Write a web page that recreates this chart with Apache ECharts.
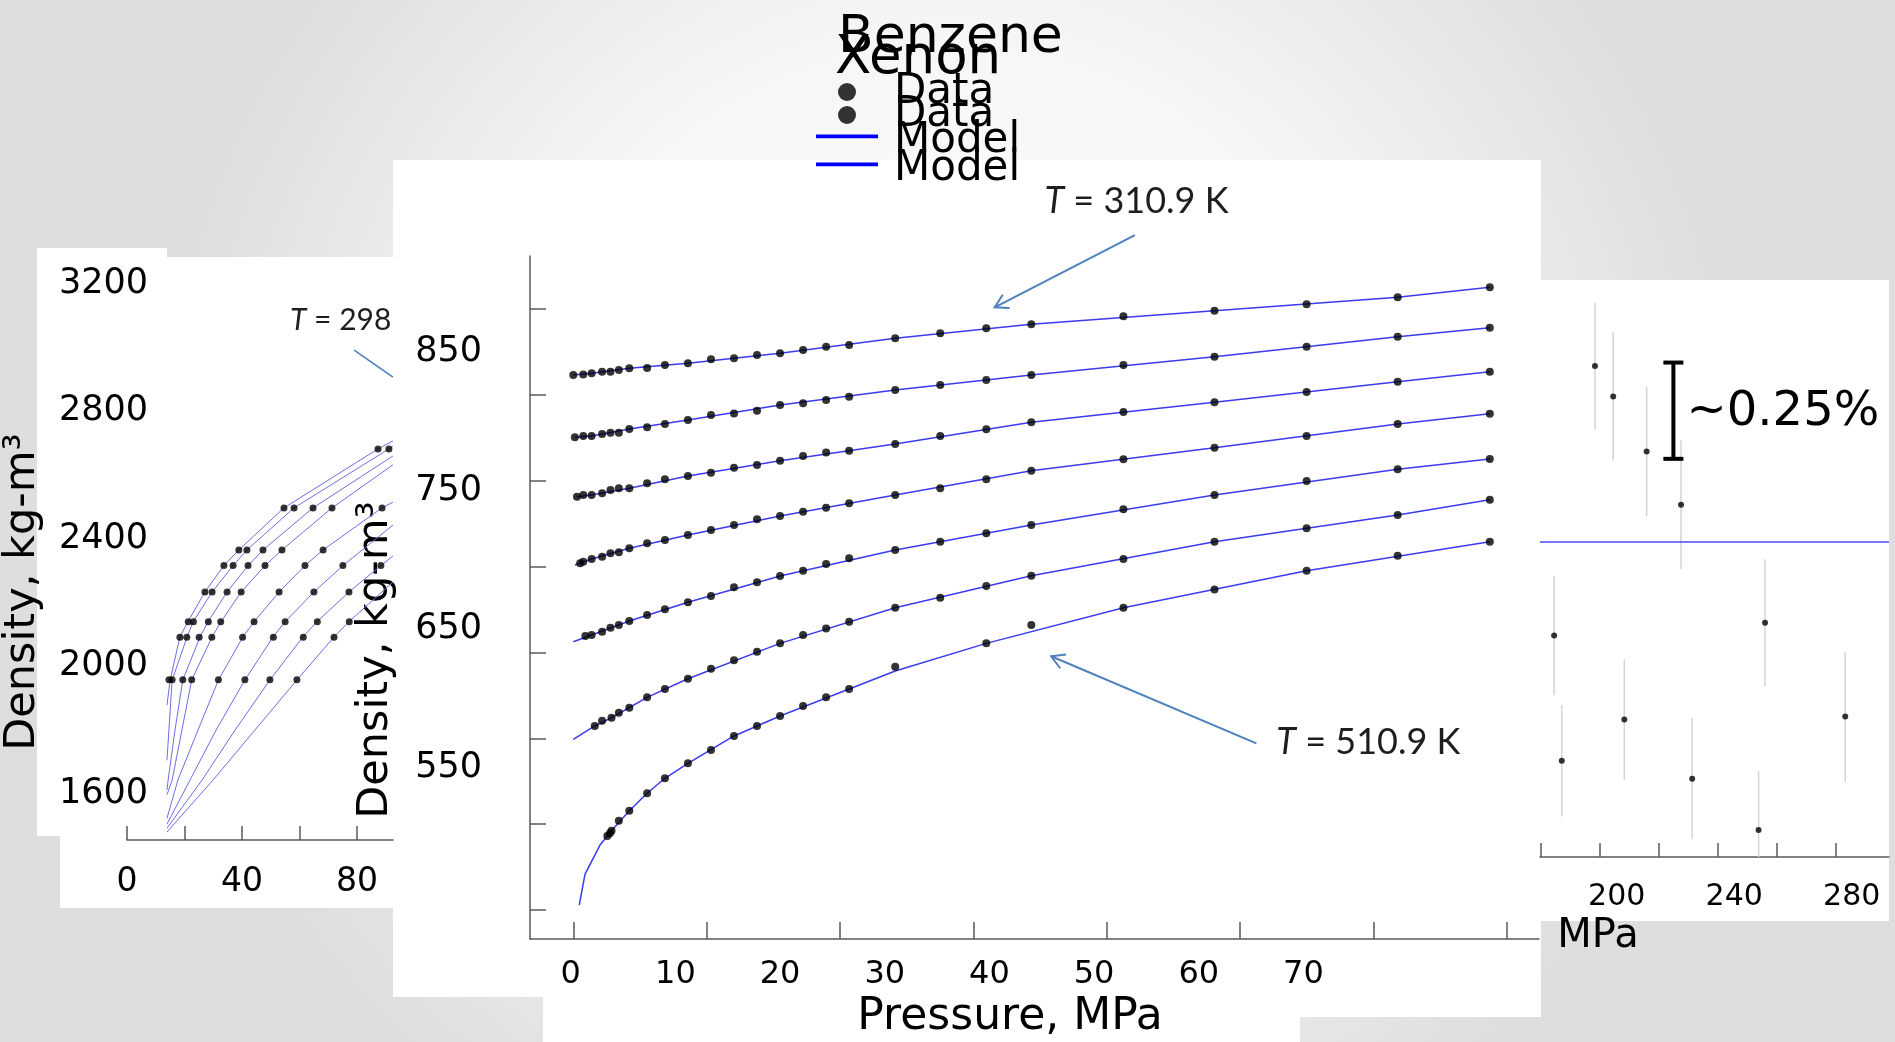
<!DOCTYPE html>
<html>
<head>
<meta charset="utf-8">
<script src="https://cdn.jsdelivr.net/npm/echarts@6/dist/echarts.min.js"></script>
<style>
  html, body { margin: 0; padding: 0; background: #fff; }
  #chart { width: 1895px; height: 1042px; }
</style>
</head>
<body>
<div id="chart"></div>
<script>
// ---------------- Benzene isotherms (main panel): [pressure MPa, density kg/m3] ----------------
const bz310Data = [[0.25,833.1],[1.2,833.6],[2.0,834.4],[3.0,835.5],[3.8,835.5],[4.6,836.7],[5.6,838.0],[7.3,838.2],[9.0,840.3],[11.2,841.6],[13.4,844.5],[15.6,845.2],[17.8,847.6],[20.0,848.8],[22.2,851.2],[24.4,853.5],[26.6,854.8],[31.0,859.6],[35.3,863.2],[39.7,866.8],[44.0,869.7],[52.8,875.4],[61.5,879.5],[70.3,884.1],[79.0,889.1],[87.8,896.3]];
const bz344Data = [[0.4,788.3],[1.2,789.2],[2.0,789.2],[3.0,790.6],[3.8,791.6],[4.6,791.6],[5.6,794.2],[7.3,795.5],[9.0,797.8],[11.2,800.7],[13.4,804.3],[15.6,805.5],[17.8,807.4],[20.0,811.5],[22.2,812.8],[24.4,815.1],[26.6,817.5],[31.0,822.3],[35.3,825.9],[39.7,829.5],[44.0,833.1],[52.8,840.3],[61.5,846.3],[70.3,853.5],[79.0,860.7],[87.8,867.2]];
const bz378Data = [[0.6,745.5],[1.2,746.7],[2.0,746.7],[3.0,747.9],[3.8,750.3],[4.6,751.5],[5.6,751.5],[7.3,755.1],[9.0,758.0],[11.2,760.4],[13.4,762.8],[15.6,766.4],[17.8,768.3],[20.0,771.4],[22.2,774.8],[24.4,777.4],[26.6,778.6],[31.0,783.4],[35.3,789.2],[39.7,794.0],[44.0,799.1],[52.8,806.5],[61.5,813.5],[70.3,820.9],[79.0,828.3],[87.8,835.5]];
const bz411Data = [[0.9,697.5],[1.2,698.6],[2.0,700.6],[3.0,702.2],[3.8,704.7],[4.6,705.4],[5.6,708.3],[7.3,711.9],[9.0,714.3],[11.2,717.9],[13.4,721.5],[15.6,725.1],[17.8,729.2],[20.0,731.6],[22.2,734.7],[24.4,737.5],[26.6,740.7],[31.0,746.7],[35.3,751.5],[39.7,758.0],[44.0,764.2],[52.8,772.4],[61.5,780.8],[70.3,789.2],[79.0,797.8],[87.8,805.3]];
const bz444Data = [[1.4,645.1],[2.0,645.8],[3.0,648.2],[3.8,651.1],[4.6,653.0],[5.6,655.9],[7.3,660.2],[9.0,664.3],[11.2,669.4],[13.4,673.9],[15.6,680.2],[17.8,683.8],[20.0,688.3],[22.2,692.1],[24.4,697.0],[26.6,701.1],[31.0,707.1],[35.3,713.0],[39.7,719.1],[44.0,725.1],[52.8,736.4],[61.5,746.7],[70.3,756.8],[79.0,765.2],[87.8,772.6]];
const bz478Data = [[2.3,580.3],[3.0,584.1],[3.9,586.2],[4.6,589.8],[5.6,593.4],[7.3,600.9],[9.0,606.9],[11.2,614.3],[13.4,621.5],[15.6,627.6],[17.8,633.8],[20.0,639.8],[22.2,645.8],[24.4,650.6],[26.6,655.4],[31.0,665.5],[35.3,672.7],[39.7,681.1],[44.0,688.5],[52.8,700.6],[61.5,713.0],[70.3,722.7],[79.0,732.3],[87.8,743.3]];
const bz511Data = [[3.5,501.0],[3.75,503.0],[3.9,504.8],[4.6,512.0],[5.6,519.2],[7.3,531.8],[9.0,542.6],[11.2,553.4],[13.4,563.0],[15.6,573.1],[17.8,580.3],[20.0,587.5],[22.2,594.7],[24.4,600.9],[26.6,606.9],[31.0,623.0],[39.7,639.8],[44.0,653.0],[52.8,665.5],[61.5,678.7],[70.3,692.1],[79.0,703.0],[87.8,713.0]];

// Benzene model curves
const bz310Model = [[0.25,833.1],[2.0,834.4],[5.6,838.0],[11.2,841.6],[20.0,848.8],[31.0,859.6],[44.0,869.7],[61.5,879.5],[79.0,889.1],[87.8,896.3]];
const bz344Model = [[0.4,788.3],[2.0,789.2],[5.6,794.2],[11.2,800.7],[20.0,811.5],[31.0,822.3],[44.0,833.1],[61.5,846.3],[79.0,860.7],[87.8,867.2]];
const bz378Model = [[0.6,745.5],[2.0,746.7],[5.6,751.5],[11.2,760.4],[20.0,771.4],[31.0,783.4],[44.0,799.1],[61.5,813.5],[79.0,828.3],[87.8,835.5]];
const bz411Model = [[0.4,696.3],[2.0,700.6],[5.6,708.3],[11.2,717.9],[20.0,731.6],[31.0,746.7],[44.0,764.2],[61.5,780.8],[79.0,797.8],[87.8,805.3]];
const bz444Model = [[0.25,641.0],[2.0,645.8],[5.6,655.9],[11.2,669.4],[20.0,688.3],[31.0,707.1],[44.0,725.1],[61.5,746.7],[79.0,765.2],[87.8,772.6]];
const bz478Model = [[0.25,570.7],[2.3,580.3],[3.9,586.2],[7.3,600.9],[11.2,614.3],[20.0,639.8],[31.0,665.5],[44.0,688.5],[61.5,713.0],[79.0,732.3],[87.8,743.3]];
const bz511Model = [[0.82,451.3],[1.37,473.6],[2.8,494.5],[3.9,504.8],[5.6,519.2],[7.3,531.8],[9.0,542.6],[11.2,553.4],[15.6,573.1],[20.0,587.5],[26.6,606.9],[31.0,619.9],[39.7,639.8],[52.8,665.5],[70.3,692.1],[87.8,713.0]];

// ---------------- Xenon isotherms (left panel) ----------------
const xe1Data = [[14.6,1958],[18.4,2091],[21.3,2140],[27.1,2233],[33.7,2316],[38.9,2365],[54.6,2497],[87.3,2682]];
const xe2Data = [[15.7,1958],[20.8,2091],[23.1,2140],[29.6,2233],[36.9,2316],[41.7,2365],[58.1,2497],[91.1,2682]];
const xe3Data = [[19.4,1958],[25.1,2091],[28.3,2140],[34.8,2233],[42.1,2316],[47.3,2365],[64.7,2497]];
const xe4Data = [[22.5,1958],[29.5,2091],[32.6,2140],[39.7,2233],[48.0,2316],[53.9,2365],[71.3,2497]];
const xe5Data = [[31.8,1958],[40.2,2091],[44.2,2140],[52.9,2233],[61.9,2316],[68.2,2365],[88.7,2497]];
const xe6Data = [[41.0,1958],[50.9,2091],[55.0,2140],[65.0,2233],[75.1,2316]];
const xe7Data = [[49.7,1958],[61.3,2091],[66.2,2140],[77.2,2233],[88.3,2316]];
const xe8Data = [[59.1,1958],[72.0,2091],[77.3,2140]];

const xe1Model = [[13.9,1878],[15.0,1957],[18.4,2092],[21.2,2140],[27.1,2233],[33.7,2316],[38.9,2365],[54.6,2497],[87.3,2682],[92.5,2707]];
const xe2Model = [[13.9,1705],[15.7,1957],[20.9,2092],[23.0,2140],[29.6,2233],[36.9,2316],[41.7,2365],[58.1,2497],[91.1,2682],[92.5,2691]];
const xe3Model = [[13.9,1612],[14.3,1643],[16.7,1800],[19.4,1957],[25.4,2092],[28.2,2140],[34.8,2233],[42.1,2316],[47.3,2365],[64.7,2497],[92.5,2660]];
const xe4Model = [[13.9,1597],[15.7,1643],[19.1,1800],[22.5,1957],[29.6,2092],[32.7,2140],[39.7,2233],[48.0,2316],[53.9,2365],[71.3,2497],[92.5,2632]];
const xe5Model = [[13.9,1523],[17.7,1643],[24.7,1800],[31.8,1957],[40.3,2092],[44.2,2140],[52.9,2233],[61.9,2316],[68.2,2365],[88.7,2497],[92.5,2515]];
const xe6Model = [[13.9,1505],[21.9,1643],[31.0,1800],[41.0,1957],[50.8,2092],[55.0,2140],[65.0,2233],[75.1,2316],[92.5,2443]];
const xe7Model = [[13.9,1492],[26.1,1643],[37.6,1800],[49.7,1957],[61.2,2092],[66.1,2140],[77.2,2233],[88.3,2316],[92.5,2346]];
const xe8Model = [[13.9,1480],[29.9,1643],[44.5,1800],[59.1,1957],[72.0,2092],[77.2,2140],[92.5,2264]];

// ---------------- Xenon deviations at high pressure (right panel), % ----------------
const devPressure = [178.7, 181.3, 192.6, 198.8, 202.6, 210.2, 221.9, 225.7, 248.3, 250.5, 277.8];
const devPercent  = [-0.244, -0.569, 0.456, 0.377, -0.462, 0.234, 0.096, -0.616, -0.749, -0.211, -0.454];
const devUncert   = [0.155, 0.145, 0.164, 0.167, 0.157, 0.168, 0.167, 0.157, 0.153, 0.165, 0.168];
const scaleBar    = [219.3, 0.215, 0.465];   // pressure, low %, high %  (a 0.25 % span)

// ---------------- Tick / label values ----------------
const mainTickX   = [0, 10, 20, 30, 40, 50, 60, 70];
const mainLabelX  = [0, 10, 20, 30, 40, 50, 60, 70];
const mainTickY   = [500, 550, 600, 650, 700, 750, 800, 850];
const mainLabelY  = [550, 650, 750, 850];
const leftTickX   = [0, 20, 40, 60, 80];
const leftLabelX  = [0, 40, 80];
const leftLabelY  = [1600, 2000, 2400, 2800, 3200];
const rightTickX  = [180, 200, 220, 240, 260, 280];
const rightLabelX = [200, 240, 280];

const FONT = 'DejaVu Sans';
const AXIS_GREY = '#5a5a5a';
const MODEL_BLUE = '#3b3bf0';
const XE_BLUE = '#6e6ee2';

const chart = echarts.init(document.getElementById('chart'), null, { renderer: 'canvas', width: 1895, height: 1042 });

const hiddenAxisParts = { axisLine: { show: false }, axisTick: { show: false }, splitLine: { show: false } };
const plain = (v) => String(v);

function modelSeries(data, xi, yi, color, width) {
  return { name: 'Model', type: 'line', xAxisIndex: xi, yAxisIndex: yi, data: data, symbol: 'none',
           smooth: false, clip: true, lineStyle: { color: color, width: width }, itemStyle: { color: color }, z: 3 };
}
function dataSeries(data, xi, yi, size) {
  return { name: 'Data', type: 'scatter', xAxisIndex: xi, yAxisIndex: yi, data: data, symbol: 'circle',
           symbolSize: size, itemStyle: { color: '#000' }, clip: true, z: 4 };
}

const series = [];
[xe1Model, xe2Model, xe3Model, xe4Model, xe5Model, xe6Model, xe7Model, xe8Model]
  .forEach(d => series.push(modelSeries(d, 0, 0, XE_BLUE, 1)));
[xe1Data, xe2Data, xe3Data, xe4Data, xe5Data, xe6Data, xe7Data, xe8Data]
  .forEach(d => series.push(dataSeries(d, 0, 0, 7)));
[bz310Model, bz344Model, bz378Model, bz411Model, bz444Model, bz478Model, bz511Model]
  .forEach(d => series.push(modelSeries(d, 2, 2, MODEL_BLUE, 1.5)));
[bz310Data, bz344Data, bz378Data, bz411Data, bz444Data, bz478Data, bz511Data]
  .forEach(d => series.push(dataSeries(d, 2, 2, 8)));

// error bars of the deviations
series.push({
  type: 'custom', xAxisIndex: 4, yAxisIndex: 3, clip: true, z: 3, silent: true,
  data: devPressure.map((p, i) => [p, devPercent[i] - devUncert[i], devPercent[i] + devUncert[i]]),
  renderItem: function (params, api) {
    const a = api.coord([api.value(0), api.value(1)]);
    const b = api.coord([api.value(0), api.value(2)]);
    return { type: 'line', shape: { x1: a[0], y1: a[1], x2: b[0], y2: b[1] },
             style: { stroke: '#d4d4d4', lineWidth: 1.5 } };
  }
});
// deviation points with the zero line of the model
series.push({
  name: 'Deviation', type: 'scatter', xAxisIndex: 4, yAxisIndex: 3, symbolSize: 6, clip: true, z: 4,
  itemStyle: { color: '#000' },
  data: devPressure.map((p, i) => [p, devPercent[i]]),
  markLine: { silent: true, symbol: ['none', 'none'], label: { show: false },
              lineStyle: { color: '#4b4bf2', width: 1.5, type: 'solid' }, data: [{ yAxis: 0 }] }
});
// 0.25 % scale bar
series.push({
  type: 'custom', xAxisIndex: 4, yAxisIndex: 3, clip: false, z: 5, silent: true,
  data: [scaleBar],
  renderItem: function (params, api) {
    const a = api.coord([api.value(0), api.value(1)]);
    const b = api.coord([api.value(0), api.value(2)]);
    const st = { stroke: '#000', lineWidth: 4 };
    return { type: 'group', children: [
      { type: 'line', shape: { x1: a[0], y1: a[1], x2: b[0], y2: b[1] }, style: st },
      { type: 'line', shape: { x1: a[0] - 10, y1: a[1], x2: a[0] + 10, y2: a[1] }, style: st },
      { type: 'line', shape: { x1: b[0] - 10, y1: b[1], x2: b[0] + 10, y2: b[1] }, style: st }
    ] };
  }
});

const labelStyle = (size) => ({ color: '#000', fontFamily: FONT, fontSize: size });

// legend icons: a filled dot for data, a short bar (inside a 62x18 box) for the model
const MODEL_ICON = 'path://M0,0H0.01V0.01H0Z M0,2.6H62V6.2H0Z M61.99,17.99H62V18H61.99Z';
const legendItems = [
  { name: 'Data', icon: 'circle', itemStyle: { color: '#000' } },
  { name: 'Model', icon: MODEL_ICON, itemStyle: { color: '#0000ff' } }
];
const legendText = { fontSize: 42, lineHeight: 42, color: '#000', fontFamily: FONT, padding: [0, 0, 0, 11] };

const noBounds = { outerBoundsMode: 'none', containLabel: false };

const option = {
  animation: false,
  textStyle: { fontFamily: FONT },
  title: [
    { text: 'Benzene', left: 838, top: 12, padding: 0, textStyle: { fontSize: 52, fontWeight: 'normal', color: '#000', fontFamily: FONT } },
    { text: 'Xenon',   left: 835, top: 33, padding: 0, textStyle: { fontSize: 53, fontWeight: 'normal', color: '#000', fontFamily: FONT } }
  ],
  legend: [
    { data: legendItems, orient: 'vertical', left: 816, top: 71, padding: 0, itemGap: 7,
      itemWidth: 62, itemHeight: 18, selectedMode: false, textStyle: legendText },
    { data: legendItems, orient: 'vertical', left: 816, top: 94, padding: 0, itemGap: 12,
      itemWidth: 62, itemHeight: 18, selectedMode: false, textStyle: legendText }
  ],
  grid: [
    { left: 127, top: 248, width: 266, height: 592, ...noBounds },     // xenon
    { left: 530, top: 256, width: 1009, height: 683, ...noBounds },    // benzene
    { left: 1540, top: 284, width: 349, height: 573, ...noBounds }     // deviations
  ],
  xAxis: [
    { gridIndex: 0, type: 'value', position: 'bottom', min: 0, max: 92.52,
      axisLine: { show: true, onZero: false, lineStyle: { color: AXIS_GREY, width: 1.5 } },
      axisTick: { show: true, inside: true, length: 14, customValues: leftTickX, lineStyle: { color: AXIS_GREY, width: 1.5 } },
      axisLabel: { show: true, customValues: leftLabelX, margin: 26, formatter: plain, ...labelStyle(33) },
      splitLine: { show: false } },
    { gridIndex: 1, type: 'value', position: 'bottom', min: -3.247, max: 72.42,
      axisLine: { show: true, onZero: false, lineStyle: { color: AXIS_GREY, width: 1.5 } },
      axisTick: { show: true, inside: true, length: 17, customValues: mainTickX, lineStyle: { color: AXIS_GREY, width: 1.5 } },
      axisLabel: { show: false }, splitLine: { show: false } },
    { gridIndex: 1, type: 'value', position: 'bottom', min: -3.888, max: 92.50, ...hiddenAxisParts,
      axisLine: { show: false, onZero: false },
      axisLabel: { show: true, customValues: mainLabelX, margin: 20, formatter: plain, ...labelStyle(32) },
      name: 'Pressure, MPa', nameLocation: 'middle', nameGap: 57,
      nameTextStyle: { fontSize: 44, color: '#000', fontFamily: FONT, padding: [0, 49, 0, 0] } },
    { gridIndex: 2, type: 'value', position: 'bottom', min: 179.66, max: 297.97,
      axisLine: { show: true, onZero: false, lineStyle: { color: AXIS_GREY, width: 1.5 } },
      axisTick: { show: true, inside: true, length: 14, customValues: rightTickX, lineStyle: { color: AXIS_GREY, width: 1.5 } },
      axisLabel: { show: false }, splitLine: { show: false } },
    { gridIndex: 2, type: 'value', position: 'bottom', min: 173.89, max: 292.70, ...hiddenAxisParts,
      axisLine: { show: false, onZero: false },
      axisLabel: { show: true, customValues: rightLabelX, margin: 25, formatter: plain, ...labelStyle(30) },
      name: 'MPa', nameLocation: 'middle', nameGap: 60,
      nameTextStyle: { fontSize: 40, color: '#000', fontFamily: FONT, padding: [0, 233, 0, 0] } }
  ],
  yAxis: [
    { gridIndex: 0, type: 'value', position: 'left', min: 1455.1, max: 3312.3, ...hiddenAxisParts,
      axisLine: { show: false, onZero: false },
      axisLabel: { show: true, customValues: leftLabelY, margin: -21, formatter: plain, ...labelStyle(35) },
      name: 'Density, kg-m³', nameLocation: 'middle', nameRotate: 90, nameGap: 83,
      nameTextStyle: { fontSize: 43, color: '#000', fontFamily: FONT, padding: [0, 96, 0, 0] } },
    { gridIndex: 1, type: 'value', position: 'left', min: 483.1, max: 880.9,
      axisLine: { show: true, onZero: false, lineStyle: { color: AXIS_GREY, width: 1.5 } },
      axisTick: { show: true, inside: true, length: 16, customValues: mainTickY, lineStyle: { color: AXIS_GREY, width: 1.5 } },
      axisLabel: { show: false }, splitLine: { show: false } },
    { gridIndex: 1, type: 'value', position: 'left', min: 426.8, max: 918.9, ...hiddenAxisParts,
      axisLine: { show: false, onZero: false },
      axisLabel: { show: true, customValues: mainLabelY, margin: 48, formatter: plain, ...labelStyle(35) },
      name: 'Density, kg-m³', nameLocation: 'middle', nameRotate: 90, nameGap: 133,
      nameTextStyle: { fontSize: 43, color: '#000', fontFamily: FONT, padding: [0, 125, 0, 0] } },
    { gridIndex: 2, type: 'value', position: 'left', min: -0.819, max: 0.669, show: false,
      axisLine: { show: false, onZero: false }, splitLine: { show: false } }
  ],
  series: series
};

chart.setOption(option);

// ---------------- backdrop, panels and annotations ----------------
const ARROW_BLUE = '#4f81bd';
const px = (xi, yi, pt) => chart.convertToPixel({ xAxisIndex: xi, yAxisIndex: yi }, pt);

function arrowEls(tail, tip) {
  const dx = tail[0] - tip[0], dy = tail[1] - tip[1];
  const L = Math.hypot(dx, dy), ux = dx / L, uy = dy / L;
  const arm = (ang) => [tip[0] + 15 * (ux * Math.cos(ang) - uy * Math.sin(ang)),
                        tip[1] + 15 * (ux * Math.sin(ang) + uy * Math.cos(ang))];
  const st = { stroke: ARROW_BLUE, lineWidth: 2, fill: null };
  return [
    { type: 'line', z: 20, silent: true, shape: { x1: tail[0], y1: tail[1], x2: tip[0], y2: tip[1] }, style: st },
    { type: 'polyline', z: 20, silent: true, shape: { points: [arm(Math.PI / 6), tip, arm(-Math.PI / 6)] }, style: st }
  ];
}
function tLabel(pos, text, size, align) {
  return { type: 'text', z: 20, silent: true, x: pos[0], y: pos[1],
    style: { text: '{i|T} = ' + text, fill: '#1e1e1e', fontSize: size, fontFamily: 'Lato',
             align: align, verticalAlign: 'middle',
             rich: { i: { fontStyle: 'italic', fontSize: size, fontFamily: 'Lato', fill: '#1e1e1e' } } } };
}

const white = (x, y, w, h) => ({ type: 'rect', z: -10, silent: true, shape: { x: x, y: y, width: w, height: h }, style: { fill: '#fff' } });
const graphics = [
  { type: 'rect', z: -20, silent: true, shape: { x: 0, y: 0, width: 1895, height: 1042 },
    style: { fill: new echarts.graphic.RadialGradient(0.5, 0.45, 0.75,
      [{ offset: 0, color: '#ffffff' }, { offset: 0.55, color: '#f6f6f6' }, { offset: 1, color: '#dedede' }]) } },
  // xenon panel
  white(37, 248, 130, 588), white(167, 257, 226, 579), white(60, 836, 333, 72),
  // benzene panel
  white(393, 160, 1148, 837), white(543, 997, 757, 45), white(1300, 997, 241, 20),
  // deviation panel
  white(1541, 280, 348, 641)
];

// T = 310.9 K (top benzene isotherm)
graphics.push(tLabel(px(2, 2, [54.05, 958.0]), '310.9 K', 36, 'center'));
graphics.push(...arrowEls(px(2, 2, [53.9, 934.0]), px(2, 2, [40.5, 881.9])));
// T = 510.9 K (bottom benzene isotherm)
graphics.push(tLabel(px(2, 2, [76.2, 568.4]), '510.9 K', 36, 'center'));
graphics.push(...arrowEls(px(2, 2, [65.5, 567.8]), px(2, 2, [45.9, 630.5])));
// T = 298 (xenon)
graphics.push(tLabel(px(0, 0, [56.7, 3086]), '298', 30, 'left'));
(function () {
  const a = px(0, 0, [79.0, 2992]), b = px(0, 0, [92.5, 2907]);
  graphics.push({ type: 'line', z: 20, silent: true, shape: { x1: a[0], y1: a[1], x2: b[0], y2: b[1] },
                  style: { stroke: ARROW_BLUE, lineWidth: 1.6 } });
})();
// size of the 0.25 % span
(function () {
  const p = px(4, 3, [223.8, 0.336]);
  graphics.push({ type: 'text', z: 20, silent: true, x: p[0], y: p[1],
    style: { text: '~0.25%', fill: '#000', fontSize: 48, fontFamily: FONT, align: 'left', verticalAlign: 'middle' } });
})();

chart.setOption({ graphic: graphics });
</script>
</body>
</html>
